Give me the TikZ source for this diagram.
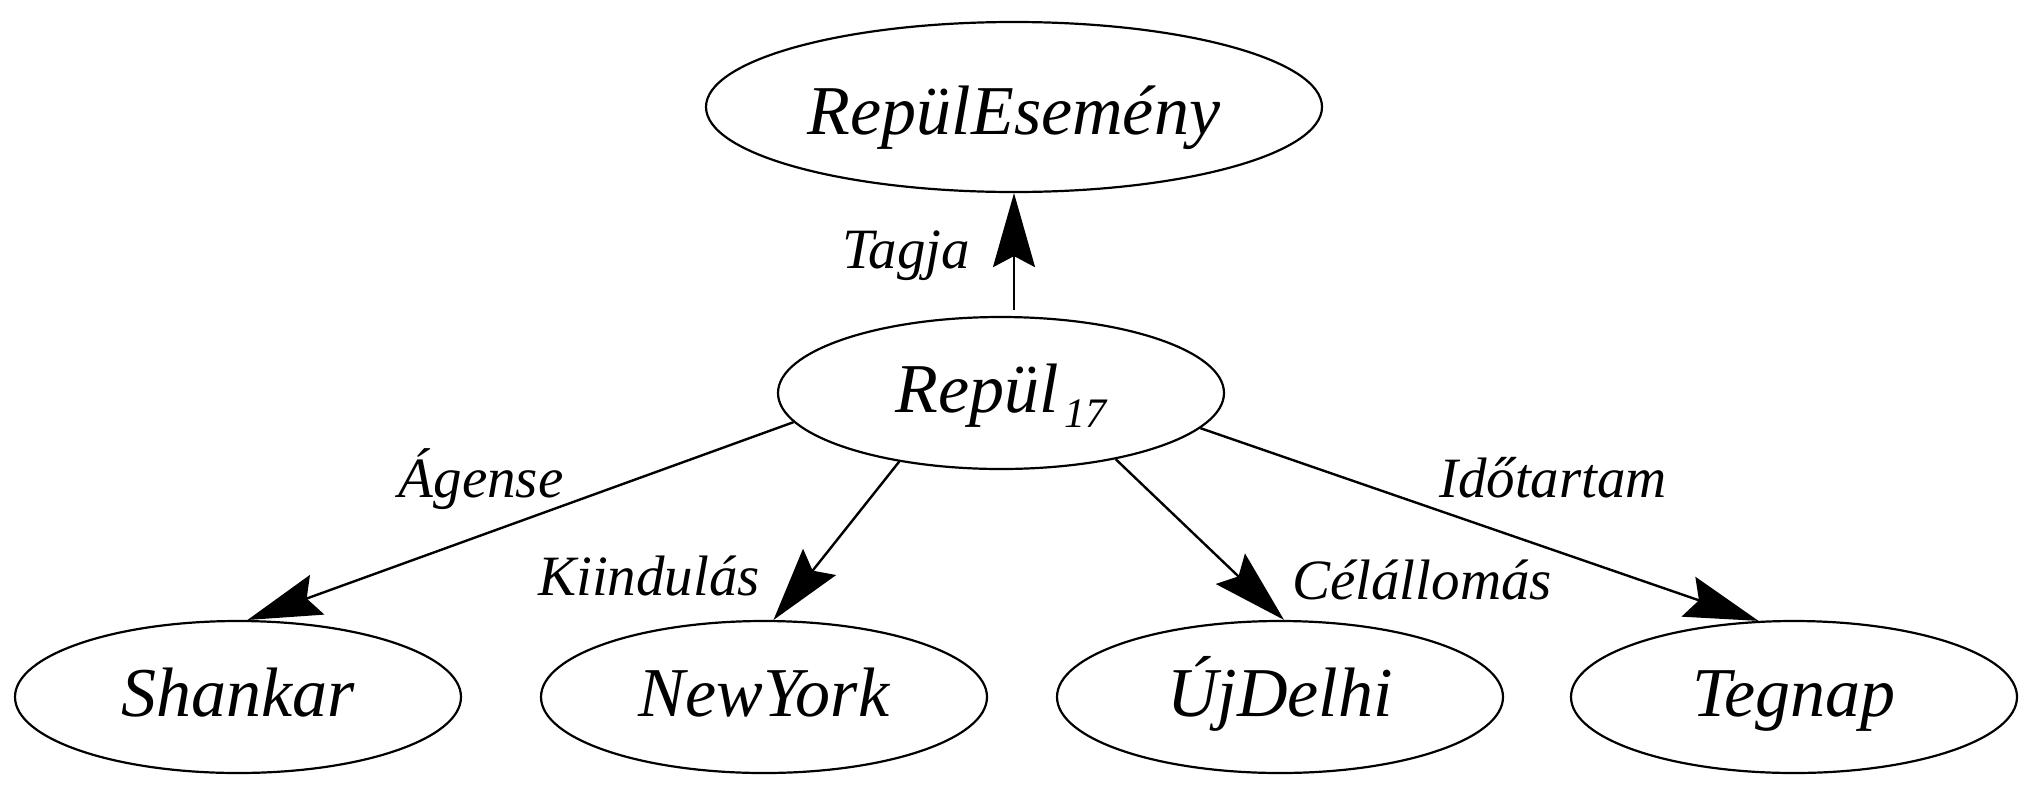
\documentclass[tikz,border=0pt]{standalone}
\usepackage{fontspec}
\setmainfont{Liberation Serif}
\usetikzlibrary{shapes.geometric,arrows.meta,calc}
\begin{document}
\begin{tikzpicture}[x=1pt,y=-1pt,
  ell/.style={draw, ellipse, line width=2.2pt, inner sep=0pt,
    minimum width=446pt, minimum height=152pt,
    font=\fontsize{70}{80}\selectfont\itshape, text height=38pt, text depth=0pt},
  arr/.style={line width=2.4pt, -{Stealth[length=74pt, width=42pt, inset=11pt]}},
  lab/.style={anchor=base, inner sep=0pt, font=\fontsize{57}{64}\selectfont\itshape}]
\useasboundingbox (0,0) rectangle (2031,793);
\node[ell, minimum width=616pt, minimum height=170pt, text height=54pt] (ev) at (1014,107) {RepülEsemény};
\node[ell] (rep) at (1001,393) {Repül\kern6pt\raisebox{-15pt}{\fontsize{42}{44}\selectfont 17}};
\node[ell] (sh) at (238,697) {Shankar};
\node[ell] (ny) at (764,697) {NewYork};
\node[ell] (ud) at (1280,697) {ÚjDelhi};
\node[ell] (tg) at (1794,697) {Tegnap};
\coordinate (ts) at ($(rep.north -| ev.south)+(0,-6)$);
\draw[arr] (ts) -- (ev.south);
\draw[arr] (rep.188.8) -- (sh.83.4);
\draw[arr] (rep.214.7) -- (ny.83.7);
\draw[arr] (rep.330.7) -- (ud.87.1);
\draw[arr] (rep.350.5) -- (tg.115.6);
\node[lab] (l1) at (906,268) {Tagja};
\node[lab] (l2) at (481,497) {Ágense};
\node[lab] (l3) at (649,595) {Kiindulás};
\node[lab] (l4) at (1422,599) {Célállomás};
\node[lab] (l5) at (1553,497) {Időtartam};
\end{tikzpicture}
\end{document}
